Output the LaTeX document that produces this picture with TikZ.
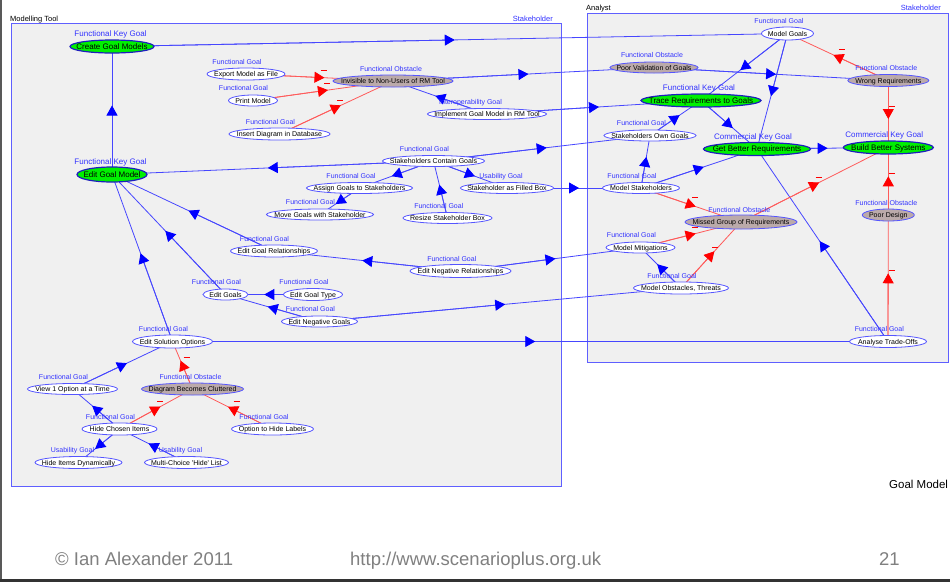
\documentclass[tikz,border=0pt]{standalone}
\usepackage{fontspec}
\setmainfont{Liberation Sans}
\usetikzlibrary{shapes.geometric,arrows.meta}
\pgfdeclarelayer{edgelayer}
\pgfsetlayers{edgelayer,main}

\definecolor{lineblue}{RGB}{70,70,255}
\definecolor{arrowblue}{RGB}{0,0,255}
\definecolor{ringblue}{RGB}{85,85,255}
\definecolor{keyring}{RGB}{30,30,190}
\definecolor{typeblue}{RGB}{50,50,255}
\definecolor{keygreen}{RGB}{0,240,0}
\definecolor{obsfill}{RGB}{187,170,170}
\definecolor{linered}{RGB}{255,90,90}
\definecolor{arrowred}{RGB}{255,0,0}
\definecolor{panelfill}{RGB}{240,240,240}
\definecolor{panelline}{RGB}{95,95,255}
\definecolor{footgray}{RGB}{128,128,128}

\tikzset{
  esize/.style 2 args={minimum width=#1pt, minimum height=#2pt},
  goalbox/.style={ellipse, draw=ringblue, line width=0.8pt, fill=white, inner sep=0pt,
    text=black, text height=5pt, text depth=0pt, font=\fontsize{7}{8}\selectfont},
  keybox/.style={goalbox, fill=keygreen, draw=keyring, line width=1.2pt,
    text height=5.7pt, font=\fontsize{8}{9}\selectfont},
  obsbox/.style={goalbox, fill=obsfill},
  typelab/.style={text=typeblue, inner sep=0pt, text height=5pt, text depth=0pt,
    font=\fontsize{7}{8}\selectfont},
  keylab/.style={typelab, text height=5.7pt, font=\fontsize{8}{9}\selectfont},
  supportline/.style={draw=lineblue, line width=0.8pt},
  hinderline/.style={draw=linered, line width=0.8pt},
  % the tip of a link sits half way between the two centres
  supporttip/.style={-{Triangle[length=10pt,width=11pt,color=arrowblue]}, shorten >=-5pt},
  hindertip/.style={-{Triangle[length=10pt,width=11pt,color=arrowred]}, shorten >=-5pt},
  minus/.style={draw=arrowred, line width=0.7pt},
  framelab/.style={inner sep=0pt, font=\fontsize{7.5}{8}\selectfont},
  footer/.style={inner sep=0pt, text=footgray, font=\fontsize{18.5}{20}\selectfont},
}

% #1 name, #2 ellipse style, #3 x, #4 y, #5 type style, #6 type shift, #7 type, #8 text
\newcommand\goalnode[8]{%
  \node[#2] (#1) at (#3,#4) {\makebox[0pt]{#8}};
  \node[#5, xshift=#6pt] (#1-type) at (#3,#4-12.5) {#7};%
}
% links run centre to centre beneath the ellipses
\newcommand\supportlink[2]{%
  \draw[supportline] (#1.center) -- coordinate (#1-#2-mid) (#2.center);
  \draw[supportline, supporttip] (#1.center) -- (#1-#2-mid);%
}
% an obstructing link carries a small minus sign beside its tip
\newcommand\hinderlink[2]{%
  \draw[hinderline] (#1.center) -- coordinate (#1-#2-mid) (#2.center);
  \draw[hinderline, hindertip] (#1.center) -- (#1-#2-mid);
  \draw[minus] ([xshift=1pt,yshift=7.5pt]#1-#2-mid) -- ++(6pt,0pt);%
}

\begin{document}
\begin{tikzpicture}[x=1pt, y=-1pt]
\useasboundingbox (0,0) rectangle (950,582);

% page, slide edges and stakeholder panels
\begin{pgfonlayer}{edgelayer}
\fill[white] (0,0) rectangle (950,582);
\draw[black!65, line width=1.5pt] (0.75,0) -- (0.75,582);
\draw[black!80, line width=2.5pt] (0,580.5) -- (950,580.5);
\path[fill=panelfill, draw=panelline, line width=1pt] (11,23) rectangle (561,486);
\path[fill=panelfill, draw=panelline, line width=1pt] (587,13) rectangle (948,362);
\end{pgfonlayer}
\node[framelab, anchor=base west] (mt-name) at (10,21) {Modelling Tool};
\node[framelab, anchor=base east, text=typeblue] (mt-kind) at (553,21.5) {Stakeholder};
\node[framelab, anchor=base west] (an-name) at (586,10.5) {Analyst};
\node[framelab, anchor=base east, text=typeblue] (an-kind) at (941,10.5) {Stakeholder};

% ---- Modelling Tool goals
\goalnode{create}{keybox, esize={84}{13}}{112}{46.5}{keylab}{-1.5}{Functional Key Goal}{Create Goal Models}
\goalnode{export}{goalbox, esize={78}{12}}{246}{74}{typelab}{-9}{Functional Goal}{Export Model as File}
\goalnode{print}{goalbox, esize={49}{11}}{253}{100.5}{typelab}{-9.5}{Functional Goal}{Print Model}
\goalnode{insert}{goalbox, esize={101}{12}}{279.5}{134}{typelab}{-9}{Functional Goal}{Insert Diagram in Database}
\goalnode{invis}{obsbox, esize={120}{12}}{393}{81}{typelab}{-2}{Functional Obstacle}{Invisible to Non-Users of RM Tool}
\goalnode{implement}{goalbox, esize={119}{11}}{487}{114}{typelab}{-16.5}{Interoperability Goal}{Implement Goal Model in RM Tool}
\goalnode{editgm}{keybox, esize={70}{15}}{112}{174.5}{keylab}{-1.5}{Functional Key Goal}{Edit Goal Model}
\goalnode{scg}{goalbox, esize={102}{11}}{433.5}{161}{typelab}{-9}{Functional Goal}{Stakeholders Contain Goals}
\goalnode{assign}{goalbox, esize={106}{11}}{359.5}{188}{typelab}{-8.5}{Functional Goal}{Assign Goals to Stakeholders}
\goalnode{filled}{goalbox, esize={93}{11}}{507}{188}{typelab}{-6}{Usability Goal}{Stakeholder as Filled Box}
\goalnode{movegs}{goalbox, esize={107}{11}}{320}{214.5}{typelab}{-9.5}{Functional Goal}{Move Goals with Stakeholder}
\goalnode{resize}{goalbox, esize={89}{11}}{447.5}{218}{typelab}{-8.7}{Functional Goal}{Resize Stakeholder Box}
\goalnode{egr}{goalbox, esize={87}{12}}{274}{251}{typelab}{-9.5}{Functional Goal}{Edit Goal Relationships}
\goalnode{enr}{goalbox, esize={101}{13}}{460.5}{271}{typelab}{-8.7}{Functional Goal}{Edit Negative Relationships}
\goalnode{egoals}{goalbox, esize={45}{11}}{225.5}{294.5}{typelab}{-9}{Functional Goal}{Edit Goals}
\goalnode{egt}{goalbox, esize={59}{12}}{313}{294.5}{typelab}{-9}{Functional Goal}{Edit Goal Type}
\goalnode{eng}{goalbox, esize={76}{11}}{319.5}{321.5}{typelab}{-9}{Functional Goal}{Edit Negative Goals}
\goalnode{eso}{goalbox, esize={80}{13}}{172.5}{341.5}{typelab}{-9}{Functional Goal}{Edit Solution Options}
\goalnode{view}{goalbox, esize={90}{11}}{72.5}{389}{typelab}{-9}{Functional Goal}{View 1 Option at a Time}
\goalnode{dbc}{obsbox, esize={102}{12}}{192.5}{389}{typelab}{-2}{Functional Obstacle}{Diagram Becomes Cluttered}
\goalnode{hci}{goalbox, esize={75}{12}}{119.5}{429}{typelab}{-9}{Functional Goal}{Hide Chosen Items}
\goalnode{ohl}{goalbox, esize={82}{12}}{272.5}{429}{typelab}{-8.5}{Functional Goal}{Option to Hide Labels}
\goalnode{hid}{goalbox, esize={87}{12}}{78.5}{462.5}{typelab}{-6}{Usability Goal}{Hide Items Dynamically}
\goalnode{mch}{goalbox, esize={84}{12}}{186.5}{462.5}{typelab}{-6}{Usability Goal}{Multi-Choice \textquotesingle Hide\textquotesingle\ List}

% ---- Analyst goals
\goalnode{mgoals}{goalbox, esize={52}{13}}{787.5}{33.5}{typelab}{-8.5}{Functional Goal}{Model Goals}
\goalnode{poorval}{obsbox, esize={88}{11}}{654}{67.5}{typelab}{-2}{Functional Obstacle}{Poor Validation of Goals}
\goalnode{wrongreq}{obsbox, esize={81}{12}}{888.3}{80.5}{typelab}{-2}{Functional Obstacle}{Wrong Requirements}
\goalnode{trace}{keybox, esize={120}{13}}{701}{100.5}{keylab}{-2}{Functional Key Goal}{Trace Requirements to Goals}
\goalnode{sog}{goalbox, esize={92}{11}}{650}{135.5}{typelab}{-8.5}{Functional Goal}{Stakeholders Own Goals}
\goalnode{gbr}{keybox, esize={107}{13}}{757}{149}{keylab}{-4}{Commercial Key Goal}{Get Better Requirements}
\goalnode{bbs}{keybox, esize={90}{13}}{888.3}{147.5}{keylab}{-4}{Commercial Key Goal}{Build Better Systems}
\goalnode{mstk}{goalbox, esize={77}{11}}{641}{188}{typelab}{-9}{Functional Goal}{Model Stakeholders}
\goalnode{missed}{obsbox, esize={112}{14}}{741}{222}{typelab}{-1.6}{Functional Obstacle}{Missed Group of Requirements}
\goalnode{poordesign}{obsbox, esize={52}{12}}{888.3}{215}{typelab}{-2}{Functional Obstacle}{Poor Design}
\goalnode{mmit}{goalbox, esize={69}{11}}{640.5}{247.5}{typelab}{-9}{Functional Goal}{Model Mitigations}
\goalnode{mobs}{goalbox, esize={95}{12}}{681}{288}{typelab}{-9}{Functional Goal}{Model Obstacles, Threats}
\goalnode{ato}{goalbox, esize={77}{12}}{888}{341.5}{typelab}{-8.7}{Functional Goal}{Analyse Trade-Offs}

% ---- links
\begin{pgfonlayer}{edgelayer}
\supportlink{create}{mgoals}
\supportlink{editgm}{create}
\supportlink{scg}{editgm}
\supportlink{invis}{poorval}
\supportlink{implement}{invis}
\supportlink{implement}{trace}
\supportlink{scg}{sog}
\supportlink{scg}{assign}
\supportlink{scg}{filled}
\supportlink{resize}{scg}
\supportlink{assign}{movegs}
\supportlink{filled}{mstk}
\supportlink{egr}{editgm}
\supportlink{egoals}{editgm}
\supportlink{eso}{editgm}
\supportlink{enr}{egr}
\supportlink{enr}{mmit}
\supportlink{egt}{egoals}
\supportlink{eng}{egoals}
\supportlink{eng}{mobs}
\supportlink{eso}{ato}
\supportlink{view}{eso}
\supportlink{hci}{view}
\supportlink{hci}{hid}
\supportlink{mch}{hci}
\supportlink{mgoals}{trace}
\supportlink{mgoals}{gbr}
\supportlink{poorval}{wrongreq}
\supportlink{trace}{gbr}
\supportlink{sog}{trace}
\supportlink{mstk}{sog}
\supportlink{mstk}{gbr}
\supportlink{gbr}{bbs}
\supportlink{ato}{gbr}
\supportlink{mobs}{mmit}

\hinderlink{export}{invis}
\hinderlink{print}{invis}
\hinderlink{insert}{invis}
\hinderlink{wrongreq}{mgoals}
\hinderlink{wrongreq}{bbs}
\hinderlink{poordesign}{bbs}
\hinderlink{ato}{poordesign}
\hinderlink{missed}{bbs}
\hinderlink{mstk}{missed}
\hinderlink{mmit}{missed}
\hinderlink{mobs}{missed}
\hinderlink{dbc}{eso}
\hinderlink{hci}{dbc}
\hinderlink{ohl}{dbc}
\end{pgfonlayer}

% ---- captions
\node[inner sep=0pt, anchor=base west, font=\fontsize{11.5}{12}\selectfont] (title) at (889,488) {Goal Model};
\node[footer, anchor=base west] (copy) at (55,565) {© Ian Alexander 2011};
\node[footer, anchor=base west] (url) at (350,565) {http://www.scenarioplus.org.uk};
\node[footer, anchor=base west] (page) at (879,565) {21};
\end{tikzpicture}
\end{document}
